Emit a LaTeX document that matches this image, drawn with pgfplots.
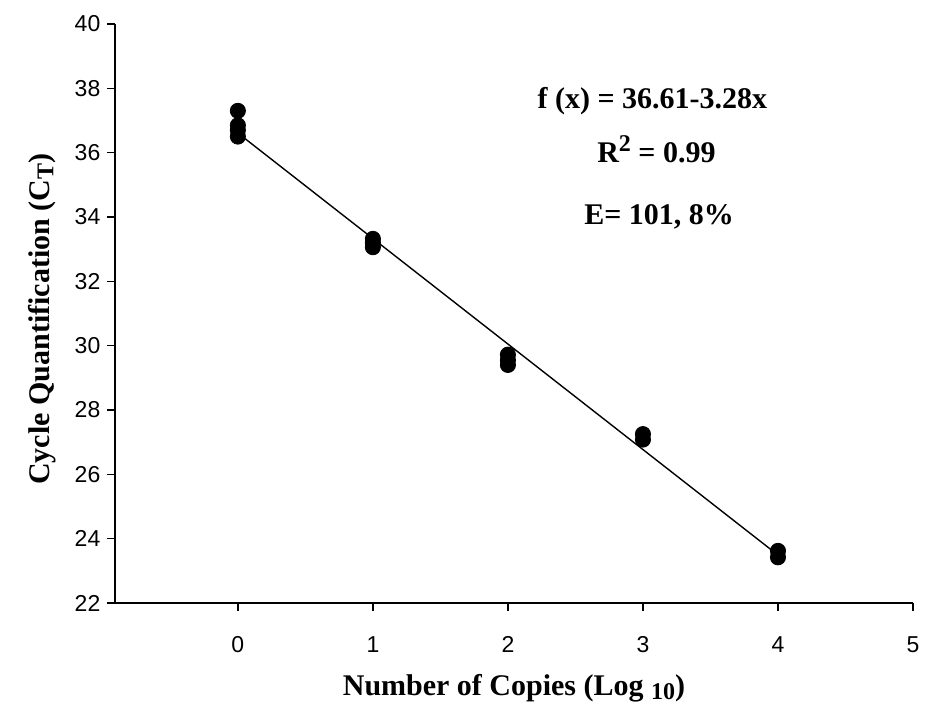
\documentclass[border=0pt]{standalone}
\usepackage{fontspec}
\setmainfont{Liberation Serif}
\newfontfamily\ticksans{Liberation Sans}
\usepackage{pgfplots}
\pgfplotsset{compat=1.18}

\newcommand{\lsub}[1]{\raisebox{-0.3ex}{\fontsize{12}{12}\selectfont #1}}
\newcommand{\lsup}[1]{\raisebox{0.8ex}{\fontsize{12}{12}\selectfont #1}}

\begin{document}
\begin{tikzpicture}
\begin{axis}[
    scale only axis,
    width=399pt, height=289.5pt,
    xmin=-0.91, xmax=5,
    ymin=22, ymax=40,
    xtick={0,1,2,3,4,5},
    ytick={22,24,...,40},
    axis lines*=left,
    axis line style={-, line width=0.8pt},
    tick style={black, line width=0.8pt},
    tick align=outside,
    major tick length=3.8pt,
    /pgf/number format/assume math mode=true,
    xticklabel style={font=\ticksans\fontsize{11.5}{13}\selectfont, anchor=center, yshift=-17pt},
    yticklabel style={font=\ticksans\fontsize{11.5}{13}\selectfont},
    xlabel={\textbf{Number of Copies (Log \lsub{10})}},
    ylabel={\textbf{Cycle Quantification (C\lsub{T})}},
    label style={font=\fontsize{15}{17}\selectfont},
    xlabel style={at={(axis description cs:0.5,0)}, anchor=center, yshift=-42.5pt},
    ylabel style={at={(axis description cs:0,0.49)}, anchor=center, yshift=36.5pt},
    clip=false,
]
\addplot[only marks, mark=*, mark size=3.8pt, black] coordinates {
    (0,37.30) (0,36.85) (0,36.70) (0,36.50)
    (1,33.32) (1,33.20) (1,33.06)
    (2,29.72) (2,29.55) (2,29.40)
    (3,27.25) (3,27.08)
    (4,23.62) (4,23.42)
};
\addplot[black, line width=0.7pt] coordinates {(0,36.61) (4,23.49)};
\node[font=\bfseries\fontsize{15}{17}\selectfont] at (axis cs:3.07,37.6) {f (x) = 36.61-3.28x};
\node[font=\bfseries\fontsize{15}{17}\selectfont] at (axis cs:3.1,36.1) {R\lsup{2} = 0.99};
\node[font=\bfseries\fontsize{15}{17}\selectfont] at (axis cs:3.12,34.0) {E= 101, 8\%};
\path (rel axis cs:0,0) ++(-57.5pt,-51.5pt) coordinate (bbA);
\path (rel axis cs:1,1) ++(7.5pt,12pt) coordinate (bbB);
\end{axis}
\end{tikzpicture}
\end{document}
